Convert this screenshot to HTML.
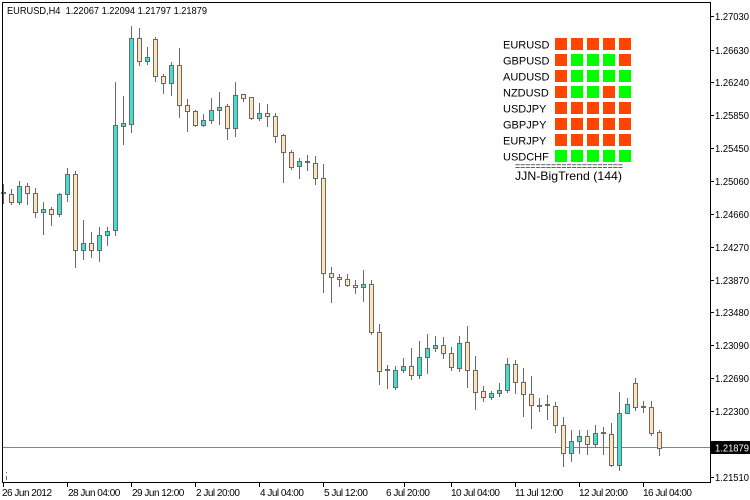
<!DOCTYPE html>
<html><head><meta charset="utf-8"><style>
html,body{margin:0;padding:0;background:#fff;}
svg{display:block;}
text{font-family:"Liberation Sans",sans-serif;}
</style></head><body>
<svg width="750" height="500" viewBox="0 0 750 500" xmlns="http://www.w3.org/2000/svg">
<rect x="0" y="0" width="750" height="500" fill="#fff"/>
<!-- price line -->
<line x1="3" y1="447.5" x2="710" y2="447.5" stroke="#778899" stroke-width="1" shape-rendering="crispEdges"/>
<!-- wicks -->
<g stroke="#696969" stroke-width="1" fill="none" shape-rendering="crispEdges">
<path d="M3.5 184V204M11.5 189V205M19.5 181V205M27.5 183V205M35.5 188V218M43.5 202V235M51.5 207V226M59.5 193V217M67.5 168V202M75.5 171V268M83.5 220V260M91.5 232V258M99.5 227V262M107.5 227V246M115.5 82V236M123.5 96V145M131.5 26V133M139.5 28V66M147.5 47V65M155.5 37V82M163.5 74V94M171.5 62V96M179.5 48V118M187.5 99V132M195.5 110V127M203.5 114V127M211.5 98V124M219.5 92V125M227.5 104V140M235.5 82V137M243.5 94V102M251.5 97V120M259.5 103V121M267.5 104V127M275.5 113V143M283.5 134V183M291.5 150V170M299.5 158V179M307.5 155V171M315.5 156V185M323.5 164V293M331.5 267V303M339.5 274V287M347.5 274V287M355.5 280V294M363.5 270V302M371.5 280V335M379.5 324V385M387.5 365V389M395.5 366V390M403.5 358V373M411.5 348V380M419.5 341V379M427.5 334V374M435.5 336V352M443.5 337V359M451.5 347V371M459.5 336V372M467.5 326V388M475.5 356V410M483.5 386V402M491.5 391V400M499.5 383V397M507.5 358V393M515.5 360V394M523.5 368V417M531.5 376V429M539.5 398V412M547.5 395V420M555.5 402V433M563.5 417V467M571.5 430V462M579.5 430V454M587.5 430V455M595.5 425V447M603.5 427V455M611.5 423V467M619.5 392V471M627.5 398V414M635.5 378V411M643.5 401V413M651.5 401V436M659.5 430V456"/>
</g>
<!-- bodies -->
<g stroke="#696969" stroke-width="1" shape-rendering="crispEdges">
<g fill="#40E0D0">
<rect x="17.5" y="186.5" width="4" height="16"/>
<rect x="41.5" y="209.5" width="4" height="3"/>
<rect x="57.5" y="194.5" width="4" height="20"/>
<rect x="65.5" y="174.5" width="4" height="20"/>
<rect x="81.5" y="243.5" width="4" height="7"/>
<rect x="97.5" y="235.5" width="4" height="15"/>
<rect x="105.5" y="231.5" width="4" height="4"/>
<rect x="113.5" y="125.5" width="4" height="105"/>
<rect x="121.5" y="123.5" width="4" height="3"/>
<rect x="129.5" y="38.5" width="4" height="86"/>
<rect x="145.5" y="57.5" width="4" height="4"/>
<rect x="169.5" y="65.5" width="4" height="18"/>
<rect x="201.5" y="120.5" width="4" height="5"/>
<rect x="209.5" y="110.5" width="4" height="10"/>
<rect x="217.5" y="107.5" width="4" height="3"/>
<rect x="233.5" y="95.5" width="4" height="33"/>
<rect x="257.5" y="113.5" width="4" height="5"/>
<rect x="297.5" y="161.5" width="4" height="5"/>
<rect x="361.5" y="284.5" width="4" height="3"/>
<rect x="393.5" y="370.5" width="4" height="17"/>
<rect x="401.5" y="366.5" width="4" height="4"/>
<rect x="417.5" y="357.5" width="4" height="18"/>
<rect x="425.5" y="348.5" width="4" height="9"/>
<rect x="433.5" y="345.5" width="4" height="3"/>
<rect x="457.5" y="343.5" width="4" height="25"/>
<rect x="489.5" y="393.5" width="4" height="4"/>
<rect x="497.5" y="390.5" width="4" height="3"/>
<rect x="505.5" y="364.5" width="4" height="26"/>
<rect x="569.5" y="441.5" width="4" height="12"/>
<rect x="577.5" y="436.5" width="4" height="5"/>
<rect x="593.5" y="433.5" width="4" height="11"/>
<rect x="617.5" y="413.5" width="4" height="52"/>
<rect x="625.5" y="404.5" width="4" height="9"/>
</g>
<g fill="#FFE4B5">
<rect x="9.5" y="194.5" width="4" height="8"/>
<rect x="25.5" y="186.5" width="4" height="7"/>
<rect x="33.5" y="193.5" width="4" height="19"/>
<rect x="49.5" y="209.5" width="4" height="5"/>
<rect x="73.5" y="174.5" width="4" height="76"/>
<rect x="89.5" y="243.5" width="4" height="7"/>
<rect x="137.5" y="38.5" width="4" height="23"/>
<rect x="153.5" y="39.5" width="4" height="37"/>
<rect x="161.5" y="76.5" width="4" height="7"/>
<rect x="177.5" y="65.5" width="4" height="40"/>
<rect x="185.5" y="105.5" width="4" height="6"/>
<rect x="193.5" y="111.5" width="4" height="14"/>
<rect x="225.5" y="106.5" width="4" height="22"/>
<rect x="241.5" y="94.5" width="4" height="4"/>
<rect x="249.5" y="97.5" width="4" height="21"/>
<rect x="265.5" y="113.5" width="4" height="3"/>
<rect x="273.5" y="116.5" width="4" height="20"/>
<rect x="281.5" y="135.5" width="4" height="17"/>
<rect x="289.5" y="152.5" width="4" height="15"/>
<rect x="313.5" y="163.5" width="4" height="15"/>
<rect x="321.5" y="178.5" width="4" height="95"/>
<rect x="329.5" y="273.5" width="4" height="4"/>
<rect x="337.5" y="277.5" width="4" height="2"/>
<rect x="345.5" y="279.5" width="4" height="6"/>
<rect x="353.5" y="285.5" width="4" height="2"/>
<rect x="369.5" y="284.5" width="4" height="48"/>
<rect x="377.5" y="332.5" width="4" height="39"/>
<rect x="409.5" y="366.5" width="4" height="9"/>
<rect x="441.5" y="345.5" width="4" height="8"/>
<rect x="449.5" y="353.5" width="4" height="14"/>
<rect x="465.5" y="342.5" width="4" height="28"/>
<rect x="473.5" y="370.5" width="4" height="22"/>
<rect x="481.5" y="391.5" width="4" height="6"/>
<rect x="513.5" y="364.5" width="4" height="18"/>
<rect x="521.5" y="382.5" width="4" height="12"/>
<rect x="529.5" y="394.5" width="4" height="11"/>
<rect x="553.5" y="406.5" width="4" height="19"/>
<rect x="561.5" y="425.5" width="4" height="28"/>
<rect x="585.5" y="436.5" width="4" height="8"/>
<rect x="609.5" y="434.5" width="4" height="31"/>
<rect x="633.5" y="383.5" width="4" height="24"/>
<rect x="649.5" y="407.5" width="4" height="26"/>
<rect x="657.5" y="432.5" width="4" height="16"/>
</g>
</g>
<!-- doji bars -->
<g fill="#696969" shape-rendering="crispEdges">
<rect x="1" y="192" width="5" height="2"/>
<rect x="305" y="161" width="5" height="2"/>
<rect x="385" y="369" width="5" height="2"/>
<rect x="537" y="405" width="5" height="2"/>
<rect x="545" y="404" width="5" height="2"/>
<rect x="601" y="432" width="5" height="2"/>
<rect x="641" y="406" width="5" height="2"/>
<rect x="6" y="472" width="1" height="1"/>
<rect x="6" y="476" width="1" height="4"/>
</g>
<!-- frame -->
<g stroke="#000" stroke-width="1" fill="none" shape-rendering="crispEdges">
<path d="M2.5 2.5H710.5V482.5H2.5Z"/>
<path d="M711 16.5H714M711 50.5H714M711 82.5H714M711 115.5H714M711 148.5H714M711 181.5H714M711 214.5H714M711 247.5H714M711 280.5H714M711 312.5H714M711 345.5H714M711 378.5H714M711 411.5H714M711 477.5H714"/>
<path d="M3.5 483V487M67.5 483V487M131.5 483V487M195.5 483V487M259.5 483V487M323.5 483V487M404.5 483V487M451.5 483V487M515.5 483V487M579.5 483V487M643.5 483V487"/>
</g>
<!-- header -->
<text x="7" y="14" font-size="10" textLength="200" lengthAdjust="spacingAndGlyphs" style="white-space:pre" fill="#000">EURUSD,H4  1.22067 1.22094 1.21797 1.21879</text>
<!-- y labels -->
<g font-size="10" fill="#000">
<text x="715" y="20" textLength="34" lengthAdjust="spacingAndGlyphs">1.27030</text>
<text x="715" y="54" textLength="34" lengthAdjust="spacingAndGlyphs">1.26630</text>
<text x="715" y="86" textLength="34" lengthAdjust="spacingAndGlyphs">1.26240</text>
<text x="715" y="119" textLength="34" lengthAdjust="spacingAndGlyphs">1.25850</text>
<text x="715" y="152" textLength="34" lengthAdjust="spacingAndGlyphs">1.25450</text>
<text x="715" y="185" textLength="34" lengthAdjust="spacingAndGlyphs">1.25060</text>
<text x="715" y="218" textLength="34" lengthAdjust="spacingAndGlyphs">1.24660</text>
<text x="715" y="251" textLength="34" lengthAdjust="spacingAndGlyphs">1.24270</text>
<text x="715" y="284" textLength="34" lengthAdjust="spacingAndGlyphs">1.23870</text>
<text x="715" y="316" textLength="34" lengthAdjust="spacingAndGlyphs">1.23480</text>
<text x="715" y="349" textLength="34" lengthAdjust="spacingAndGlyphs">1.23090</text>
<text x="715" y="382" textLength="34" lengthAdjust="spacingAndGlyphs">1.22690</text>
<text x="715" y="415" textLength="34" lengthAdjust="spacingAndGlyphs">1.22300</text>
<text x="715" y="481" textLength="34" lengthAdjust="spacingAndGlyphs">1.21510</text>
</g>
<rect x="711" y="441" width="39" height="13" fill="#000"/>
<text x="715" y="451.5" font-size="10" fill="#fff" textLength="34" lengthAdjust="spacingAndGlyphs">1.21879</text>
<!-- x labels -->
<g font-size="10" fill="#000" style="letter-spacing:-0.5px">
<text x="2" y="496">26 Jun 2012</text>
<text x="68" y="496">28 Jun 04:00</text>
<text x="132" y="496">29 Jun 12:00</text>
<text x="196" y="496">2 Jul 20:00</text>
<text x="260" y="496">4 Jul 04:00</text>
<text x="324" y="496">5 Jul 12:00</text>
<text x="386" y="496">6 Jul 20:00</text>
<text x="451" y="496">10 Jul 04:00</text>
<text x="515" y="496">11 Jul 12:00</text>
<text x="579" y="496">12 Jul 20:00</text>
<text x="643" y="496">16 Jul 04:00</text>
</g>
<!-- legend -->
<g font-size="11" fill="#000">
<text x="503" y="48.5">EURUSD</text>
<text x="503" y="64.5">GBPUSD</text>
<text x="503" y="80.5">AUDUSD</text>
<text x="503" y="96.5">NZDUSD</text>
<text x="503" y="112.5">USDJPY</text>
<text x="503" y="128.5">GBPJPY</text>
<text x="503" y="144.5">EURJPY</text>
<text x="503" y="160.5">USDCHF</text>
</g>
<g shape-rendering="crispEdges">
<g fill="#FF4500">
<rect x="555" y="38" width="12" height="12"/><rect x="571" y="38" width="12" height="12"/><rect x="587" y="38" width="12" height="12"/><rect x="603" y="38" width="12" height="12"/><rect x="619" y="38" width="12" height="12"/>
<rect x="555" y="54" width="12" height="12"/><rect x="619" y="54" width="12" height="12"/>
<rect x="555" y="70" width="12" height="12"/>
<rect x="555" y="86" width="12" height="12"/><rect x="603" y="86" width="12" height="12"/>
<rect x="555" y="102" width="12" height="12"/><rect x="571" y="102" width="12" height="12"/><rect x="587" y="102" width="12" height="12"/><rect x="603" y="102" width="12" height="12"/><rect x="619" y="102" width="12" height="12"/>
<rect x="555" y="118" width="12" height="12"/><rect x="571" y="118" width="12" height="12"/><rect x="587" y="118" width="12" height="12"/><rect x="603" y="118" width="12" height="12"/><rect x="619" y="118" width="12" height="12"/>
<rect x="555" y="134" width="12" height="12"/><rect x="571" y="134" width="12" height="12"/><rect x="587" y="134" width="12" height="12"/><rect x="603" y="134" width="12" height="12"/><rect x="619" y="134" width="12" height="12"/>
</g>
<g fill="#00FF00">
<rect x="571" y="54" width="12" height="12"/><rect x="587" y="54" width="12" height="12"/><rect x="603" y="54" width="12" height="12"/>
<rect x="571" y="70" width="12" height="12"/><rect x="587" y="70" width="12" height="12"/><rect x="603" y="70" width="12" height="12"/><rect x="619" y="70" width="12" height="12"/>
<rect x="571" y="86" width="12" height="12"/><rect x="587" y="86" width="12" height="12"/><rect x="619" y="86" width="12" height="12"/>
<rect x="555" y="150" width="12" height="12"/><rect x="571" y="150" width="12" height="12"/><rect x="587" y="150" width="12" height="12"/><rect x="603" y="150" width="12" height="12"/><rect x="619" y="150" width="12" height="12"/>
</g>
</g>
<text x="515" y="169" font-size="9" fill="#000" textLength="108" lengthAdjust="spacingAndGlyphs">=====================</text>
<text x="515" y="180" font-size="12" fill="#000" textLength="107" lengthAdjust="spacingAndGlyphs">JJN-BigTrend (144)</text>
</svg>
</body></html>
